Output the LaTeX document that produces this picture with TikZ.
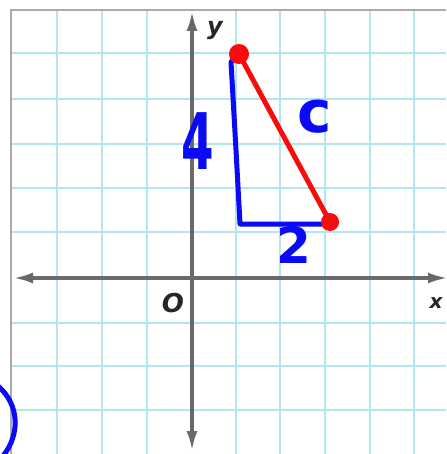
\documentclass[tikz,border=0pt]{standalone}
\usepackage{fontspec}
\usetikzlibrary{arrows.meta}
\newfontfamily\handfont{DejaVu Sans}
\newfontfamily\labfont{DejaVu Sans}
\definecolor{gridc}{RGB}{178,230,238}
\definecolor{axisc}{RGB}{105,105,105}
\definecolor{borderc}{RGB}{170,170,170}
\definecolor{penblue}{RGB}{10,10,245}
\definecolor{penred}{RGB}{250,10,10}
\tikzset{
  gridline/.style={draw=gridc, line width=2.5pt},
  axisline/.style={draw=axisc, line width=3.5pt, {Latex[length=20pt,width=11pt]}-{Latex[length=20pt,width=11pt]}},
  bluepen/.style={draw=penblue, line width=5pt, line cap=round, line join=round},
  redpen/.style={draw=penred, line width=5pt, line cap=round},
  reddot/.style={fill=penred},
  handtext/.style={text=penblue, inner sep=0pt, font=\handfont},
  axlabel/.style={inner sep=0pt, text=black!85, font=\labfont\bfseries\itshape}
}
\begin{document}
\begin{tikzpicture}[x=1pt,y=-1pt]
\useasboundingbox (0,0) rectangle (446,454);
\fill[white] (0,0) rectangle (446,454);
% grid
\foreach \x in {57,102,147,236,280,325,370,414}
  \draw[gridline] (\x,10) -- (\x,454);
\foreach \y in {53,99,144,188,232,323,366,410}
  \draw[gridline] (11,\y) -- (446,\y);
% border
\draw[draw=borderc, line width=2.5pt] (11,454) -- (11,10) -- (446,10);
% axes
\coordinate (xl) at (13,278);
\coordinate (xr) at (448,278);
\coordinate (yt) at (192,11);
\coordinate (yb) at (192,451);
\draw[axisline] (xl) -- (xr);
\draw[axisline] (yb) -- (yt);
\node[axlabel, font=\labfont\bfseries\itshape\fontsize{24}{24}\selectfont] (ylab) at (215,31) {y};
\node[axlabel, font=\labfont\bfseries\itshape\fontsize{20}{20}\selectfont] (xlab) at (436,303) {x};
\node[axlabel, font=\labfont\bfseries\itshape\fontsize{26}{26}\selectfont] (olab) at (173,303) {O};
% triangle
\coordinate (A) at (239,54);
\coordinate (B) at (240,224);
\coordinate (C) at (330,222);
\draw[bluepen] (A) -- (231,62) -- (236,150) -- (B) -- (322,224);
\draw[redpen] (A) -- (C);
\fill[reddot] (A) circle (10pt);
\fill[reddot] (C) circle (9pt);
% handwritten labels
\node[handtext, font=\handfont\bfseries\fontsize{78}{78}\selectfont, xscale=0.6] (four) at (198,141) {4};
\node[handtext, font=\handfont\bfseries\fontsize{58}{58}\selectfont] (cee) at (315,117) {c};
\node[handtext, font=\handfont\bfseries\fontsize{50}{50}\selectfont] (two) at (294,245) {2};
% partial stroke at lower left
\draw[bluepen] (-2,386) .. controls (20,405) and (20,435) .. (3,456);
\end{tikzpicture}
\end{document}
